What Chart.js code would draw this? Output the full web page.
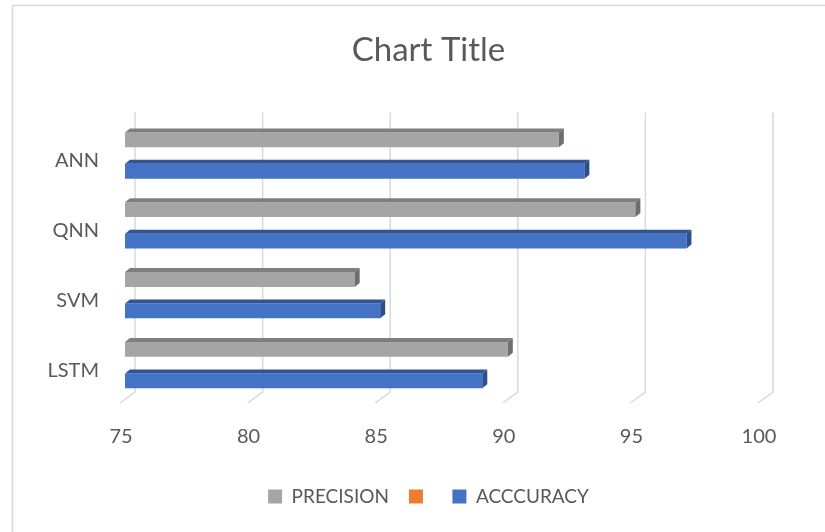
<!DOCTYPE html>
<html>
<head>
<meta charset="utf-8">
<title>Chart Title</title>
<script src="https://cdn.jsdelivr.net/npm/chart.js@4.4.1/dist/chart.umd.min.js"></script>
<style>
  html, body { margin: 0; padding: 0; background: #fff; }
  #wrap { position: relative; width: 825px; height: 532px; }
</style>
</head>
<body>
<div id="wrap"><canvas id="chart" width="825" height="532"></canvas></div>
<script>
// data
const models = ['ANN', 'QNN', 'SVM', 'LSTM'];
const precision = [92, 95, 84, 90];
const blankSeries = [null, null, null, null];
const accuracy = [93, 97, 85, 89];
const xTicks = [75, 80, 85, 90, 95, 100];

const GRAY = '#a5a5a5', ORANGE = '#ed7d31', BLUE = '#4472c4';
const TEXT = '#595959';
const FONT = 'Lato, "Open Sans", sans-serif';

// outer frame like the Excel chart border
const framePlugin = {
  id: 'frame',
  beforeDraw(chart) {
    const c = chart.ctx;
    c.save();
    c.strokeStyle = '#d9d9d9';
    c.lineWidth = 1.5;
    c.strokeRect(12.5, 5.5, 900, 600);
    c.restore();
  }
};

// back-wall gridlines with the floor bend
const wallGrid = {
  id: 'wallGrid',
  beforeDatasetsDraw(chart) {
    const c = chart.ctx, xs = chart.scales.x, a = chart.chartArea;
    c.save();
    c.strokeStyle = '#d9d9d9';
    c.lineWidth = 1.5;
    xs.ticks.forEach(t => {
      const px = xs.getPixelForValue(t.value);
      c.beginPath();
      c.moveTo(px + 10, a.top - 8);
      c.lineTo(px + 10, a.bottom - 8);
      c.lineTo(px - 5, a.bottom + 3);
      c.stroke();
    });
    c.restore();
  }
};

// fake 3d depth: top face + right side on every bar
const depth = {
  id: 'depth',
  afterDatasetsDraw(chart) {
    const c = chart.ctx, a = chart.chartArea;
    const dx = 5, dy = 4;
    const shades = { [GRAY]: ['#7f7f7f', '#6e6e6e'], [BLUE]: ['#2f5597', '#2c4f8c'] };
    chart.data.datasets.forEach((ds, i) => {
      const meta = chart.getDatasetMeta(i);
      const sh = shades[ds.backgroundColor];
      if (!sh || meta.hidden) return;
      meta.data.forEach(bar => {
        if (bar.skip) return;
        const { x, y, base, height } = bar.getProps(['x', 'y', 'base', 'height'], true);
        const left = Math.max(base, a.left);
        const top = y - height / 2, bot = y + height / 2;
        c.save();
        c.fillStyle = sh[0];
        c.beginPath();
        c.moveTo(left, top);
        c.lineTo(left + dx, top - dy);
        c.lineTo(x + dx, top - dy);
        c.lineTo(x, top);
        c.closePath();
        c.fill();
        c.fillStyle = sh[1];
        c.beginPath();
        c.moveTo(x, top);
        c.lineTo(x + dx, top - dy);
        c.lineTo(x + dx, bot - dy);
        c.lineTo(x, bot);
        c.closePath();
        c.fill();
        c.restore();
      });
    });
  }
};

new Chart(document.getElementById('chart'), {
  type: 'bar',
  data: {
    labels: models,
    datasets: [
      { label: 'PRECISION', data: precision, backgroundColor: GRAY },
      { label: '', data: blankSeries, backgroundColor: ORANGE },
      { label: 'ACCCURACY', data: accuracy, backgroundColor: BLUE }
    ]
  },
  options: {
    indexAxis: 'y',
    responsive: false,
    animation: false,
    skipNull: true,
    datasets: { bar: { skipNull: true, categoryPercentage: 0.9, barPercentage: 0.47 } },
    layout: { padding: { left: 32, right: 0, top: 0, bottom: 16 } },
    scales: {
      x: {
        min: 75, max: 100,
        afterBuildTicks: s => { s.ticks = xTicks.map(v => ({ value: v })); },
        afterFit: s => { s.height = 67; },
        grid: { display: false, drawTicks: false },
        border: { display: false },
        ticks: { color: TEXT, font: { family: FONT, size: 20 }, padding: 25, labelOffset: -4 }
      },
      y: {
        afterFit: s => { s.width = 93; },
        grid: { display: false, drawTicks: false },
        border: { display: false },
        ticks: { color: TEXT, font: { family: FONT, size: 20 }, padding: 26, labelOffset: 5 }
      },
      // empty spacer on the right so title/legend centre like the original
      yRight: {
        type: 'category',
        position: 'right',
        afterFit: s => { s.width = 62; },
        grid: { display: false, drawTicks: false },
        border: { display: false },
        ticks: { display: false }
      }
    },
    plugins: {
      title: {
        display: true, text: 'Chart Title', color: TEXT,
        font: { family: FONT, size: 33, weight: 'normal' },
        padding: { top: 31, bottom: 50 }
      },
      legend: {
        position: 'bottom',
        labels: { color: TEXT, font: { family: FONT, size: 19 }, boxWidth: 14, boxHeight: 14, padding: 20 }
      },
      tooltip: { enabled: false }
    }
  },
  plugins: [framePlugin, wallGrid, depth]
});
</script>
</body>
</html>
